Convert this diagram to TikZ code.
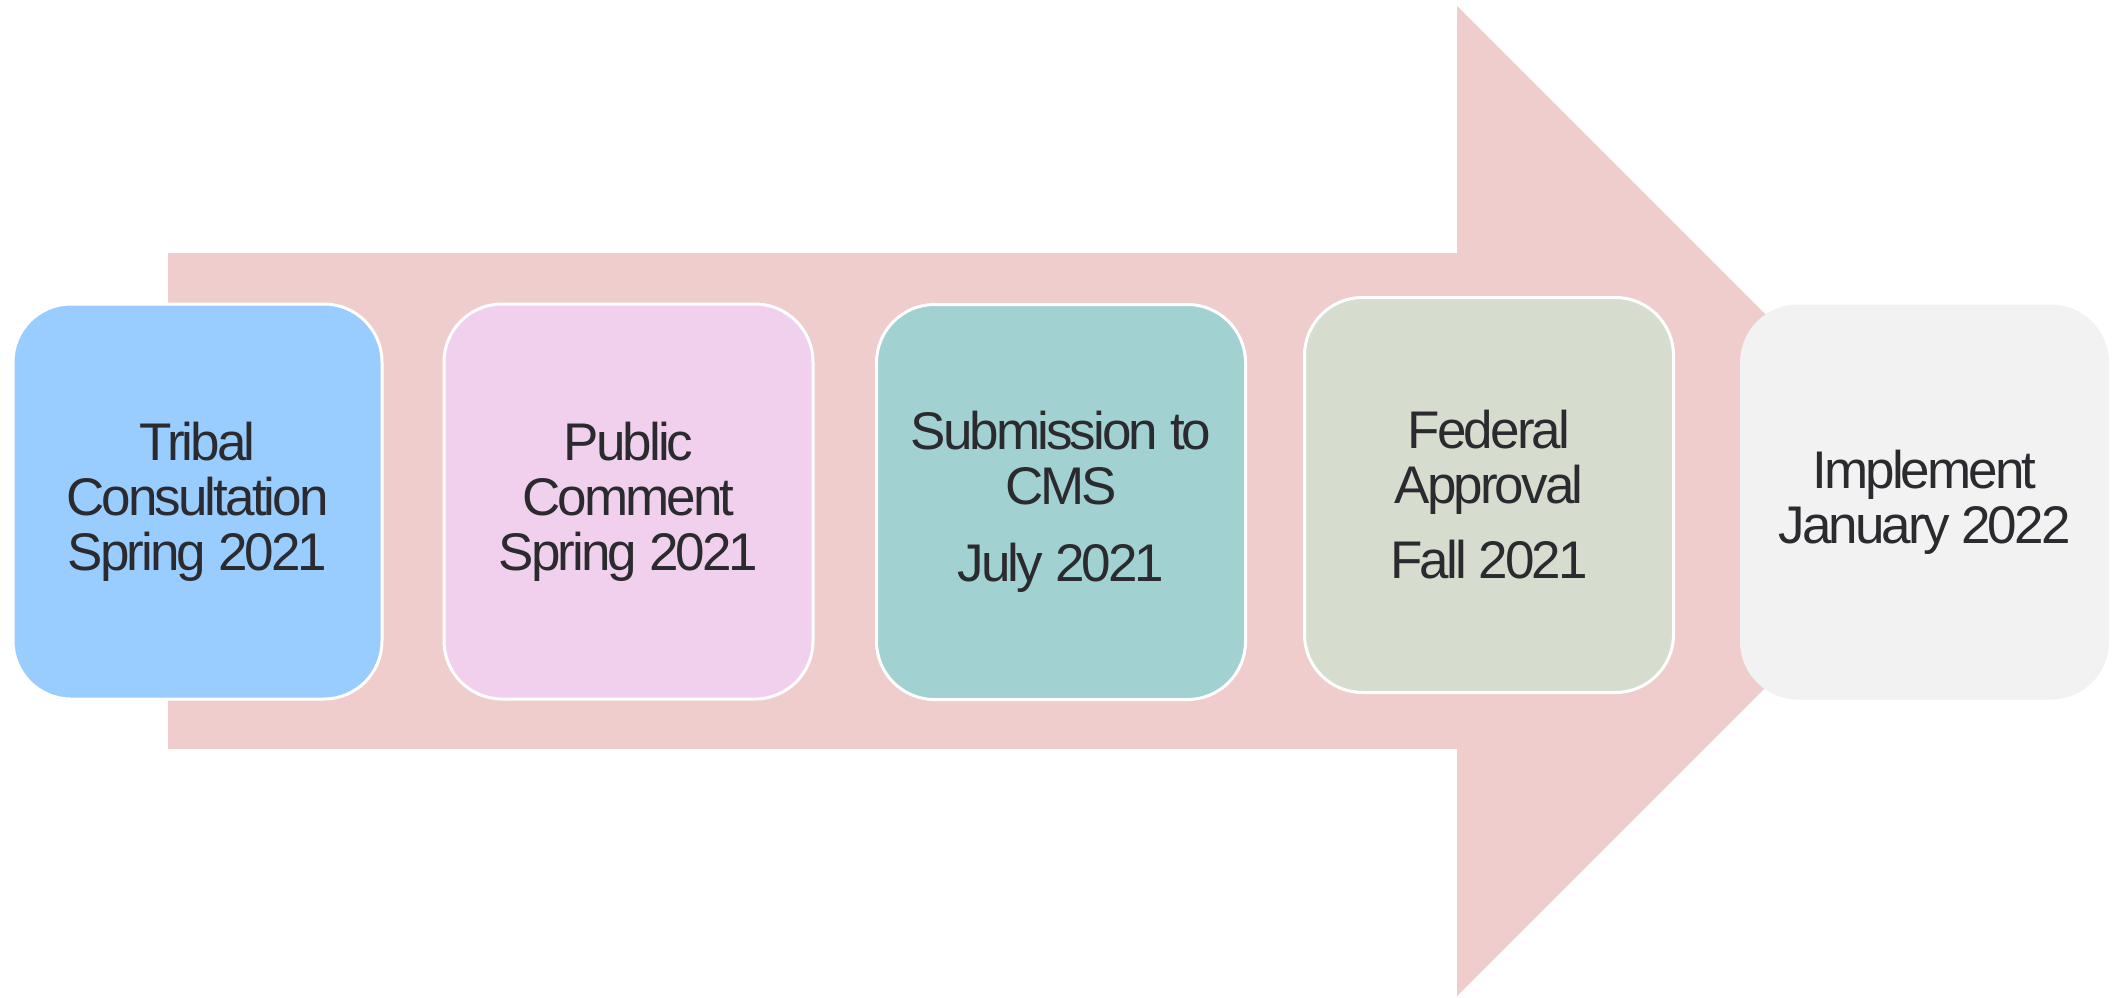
\documentclass[tikz,border=0pt]{standalone}
\usepackage{fontspec}
\newfontfamily\lab[LetterSpace=-5.5]{Liberation Sans}
\definecolor{arrowpink}{HTML}{EFCDCD}
\definecolor{cblue}{HTML}{99CCFF}
\definecolor{cpink}{HTML}{F0D0EC}
\definecolor{cteal}{HTML}{A2D1D1}
\definecolor{csage}{HTML}{D6DDCF}
\definecolor{cgrey}{HTML}{F2F2F2}
\definecolor{ctext}{HTML}{2B2A2E}
\tikzset{
  stagebox/.style={rectangle, rounded corners=58pt, minimum width=369pt, minimum height=395pt,
    draw=white, line width=3pt, align=center, text=ctext,
    font=\lab\fontsize{53}{55}\selectfont, inner sep=0pt}
}
\begin{document}
\begin{tikzpicture}[x=1pt,y=-1pt]
\useasboundingbox (0,0) rectangle (2123,997);
\fill[white] (0,0) rectangle (2123,997);
\fill[arrowpink] (168,253) -- (1457,253) -- (1457,6) -- (1952,501) -- (1457,996) -- (1457,749) -- (168,749) -- cycle;
\node[stagebox, fill=cblue] (s1) at (197.5,501.5) {Tribal\\Consultation\\Spring 2021};
\node[stagebox, fill=cpink] (s2) at (628.5,501.5) {Public\\Comment\\Spring 2021};
\node[stagebox, fill=cteal] (s3) at (1061,502) {Submission to\\CMS\\[22pt]July 2021};
\node[stagebox, fill=csage] (s4) at (1489,495) {Federal\\Approval\\[20pt]Fall 2021};
\node[stagebox, fill=cgrey, draw=none] (s5) at (1924.5,502) {Implement\\January 2022};
\end{tikzpicture}
\end{document}
